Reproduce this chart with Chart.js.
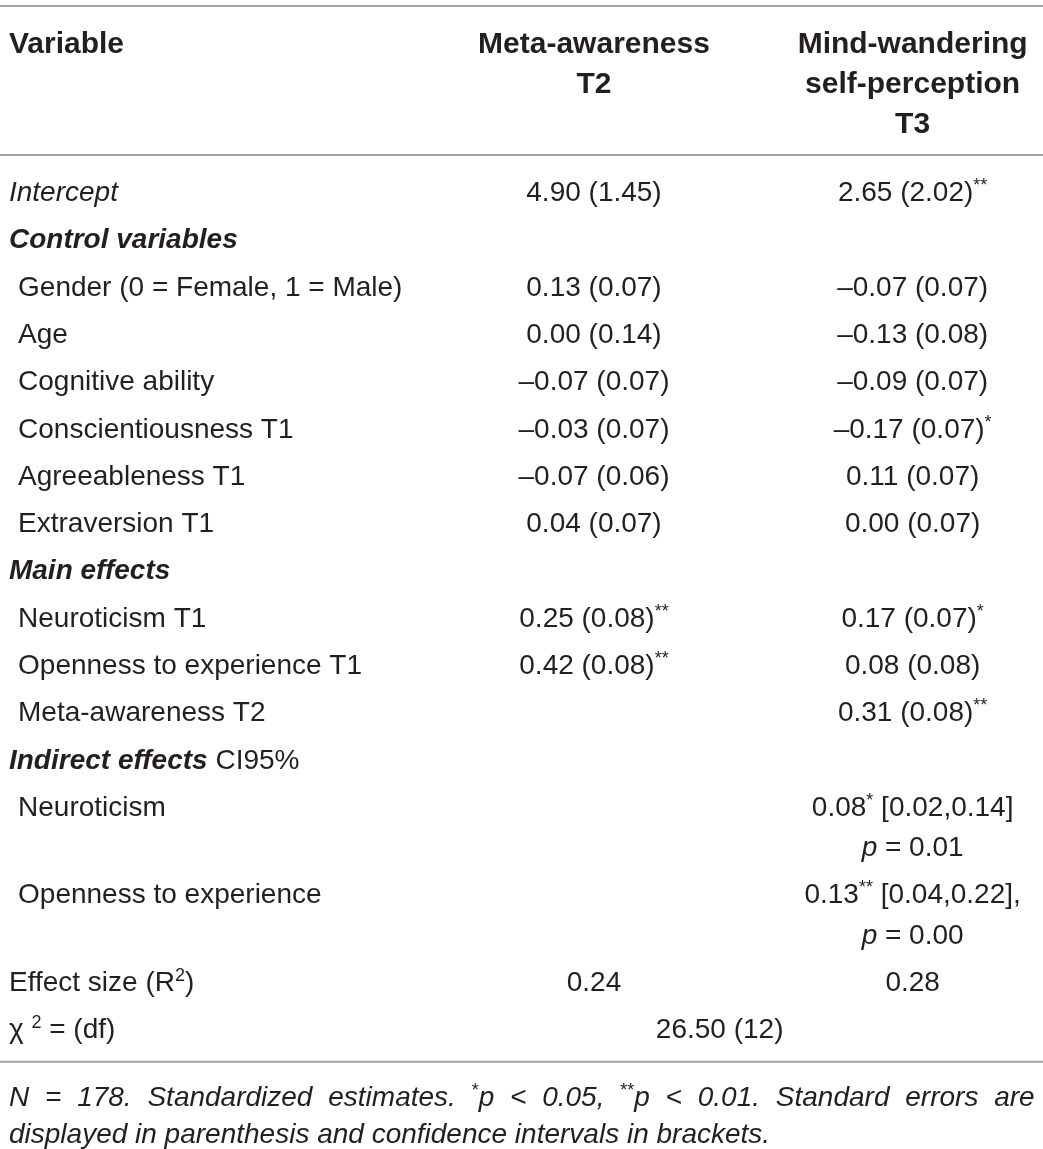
<!DOCTYPE html>
<html>
<head>
<meta charset="utf-8">
<script src="https://cdn.jsdelivr.net/npm/chart.js@4.4.1/dist/chart.umd.min.js"></script>
<style>
  html, body { margin: 0; padding: 0; background: #fff; }
</style>
</head>
<body>
<canvas id="tableChart" width="1043" height="1149"></canvas>
<script>
// ---- table content ----
// markup: {i:..} italic, {b:..} bold, {bi:..} bold italic, {sup:..} superscript
const headerVariable = ['Variable'];
const headerMeta = ['Meta-awareness', 'T2'];
const headerMind = ['Mind-wandering', 'self-perception', 'T3'];

const rowLabels = [
    '{i:Intercept}',
    '{bi:Control variables}',
    'Gender (0 = Female, 1 = Male)',
    'Age',
    'Cognitive ability',
    'Conscientiousness T1',
    'Agreeableness T1',
    'Extraversion T1',
    '{bi:Main effects}',
    'Neuroticism T1',
    'Openness to experience T1',
    'Meta-awareness T2',
    '{bi:Indirect effects} CI95%',
    'Neuroticism',
    'Openness to experience',
    'Effect size (R{sup:2})',
    'χ {sup:2} = (df)'
];
const rowIndent = [0, 0, 1, 1, 1, 1, 1, 1, 0, 1, 1, 1, 0, 1, 1, 0, 0];

const metaAwarenessT2 = [
    '4.90 (1.45)', '', '0.13 (0.07)', '0.00 (0.14)', '–0.07 (0.07)', '–0.03 (0.07)',
    '–0.07 (0.06)', '0.04 (0.07)', '', '0.25 (0.08){sup:**}', '0.42 (0.08){sup:**}',
    '', '', '', '', '0.24', ''
];
const mindWanderingT3 = [
    '2.65 (2.02){sup:**}', '', '–0.07 (0.07)', '–0.13 (0.08)', '–0.09 (0.07)', '–0.17 (0.07){sup:*}',
    '0.11 (0.07)', '0.00 (0.07)', '', '0.17 (0.07){sup:*}', '0.08 (0.08)', '0.31 (0.08){sup:**}',
    '', ['0.08{sup:*} [0.02,0.14]', '{i:p} = 0.01'], ['0.13{sup:**} [0.04,0.22],', '{i:p} = 0.00'],
    '0.28', ''
];
const chiSquareModel = '26.50 (12)';

const footnote = [
    'N = 178. Standardized estimates. {sup:*}p < 0.05, {sup:**}p < 0.01. Standard errors are',
    'displayed in parenthesis and confidence intervals in brackets.'
];

// ---- layout (x in % of width, y in row units) ----
const W = 1043, H = 1149;
const firstRowPx = 191, rowPx = 47.3, lineStep = 0.85;
const xLeft = 0.86, xIndent = 1.73, xMeta = 56.95, xMind = 87.5, xSpan = 69.0, xRight = 99.2;
const FONT = '"Liberation Sans", Arial, Helvetica, sans-serif';
const SIZE = 28, HEAD_SIZE = 30;
const INK = '#231f20';
const RULE = '#a3a3a3';

// vertical position of each body row
const rowY = [];
let pos = 0;
rowLabels.forEach((_, i) => {
    rowY.push(pos);
    const lines = Array.isArray(mindWanderingT3[i]) ? mindWanderingT3[i].length : 1;
    pos += 1 + (lines - 1) * lineStep;
});
const lastRow = rowY[rowY.length - 1];
const headerTop = -3.15;
const rules = [-3.91, -0.76, lastRow + 0.71];
const footTop = lastRow + 1.43, footStep = 0.78;

function cellPoints(texts, x, y0, step) {
    const lines = Array.isArray(texts) ? texts : [texts];
    return lines.map((t, j) => ({ x: x, y: y0 + j * step, text: t }));
}

const labelPts = rowLabels.map((t, i) => ({ x: rowIndent[i] ? xIndent : xLeft, y: rowY[i], text: t }));
const metaPts = [], mindPts = [];
rowY.forEach((y, i) => {
    if (metaAwarenessT2[i]) metaPts.push(...cellPoints(metaAwarenessT2[i], xMeta, y, lineStep));
    if (mindWanderingT3[i]) mindPts.push(...cellPoints(mindWanderingT3[i], xMind, y, lineStep));
});

const textSets = [
    { label: 'head-var', data: cellPoints(headerVariable, xLeft, headerTop, lineStep), align: 'left', base: 'b', size: HEAD_SIZE },
    { label: 'head-meta', data: cellPoints(headerMeta, xMeta, headerTop, lineStep), align: 'center', base: 'b', size: HEAD_SIZE },
    { label: 'head-mind', data: cellPoints(headerMind, xMind, headerTop, lineStep), align: 'center', base: 'b', size: HEAD_SIZE },
    { label: 'labels', data: labelPts, align: 'left', base: 'n' },
    { label: 'meta', data: metaPts, align: 'center', base: 'n' },
    { label: 'mind', data: mindPts, align: 'center', base: 'n' },
    { label: 'chi', data: [{ x: xSpan, y: lastRow, text: chiSquareModel }], align: 'center', base: 'n' },
    { label: 'foot1', data: [{ x: xLeft, y: footTop, text: footnote[0] }], align: 'justify', base: 'i' },
    { label: 'foot2', data: [{ x: xLeft, y: footTop + footStep, text: footnote[1] }], align: 'left', base: 'i' }
].map(d => Object.assign({ type: 'scatter', pointRadius: 0, cellText: true, size: SIZE }, d));

const ruleSets = rules.map(r => ({
    type: 'line',
    data: [{ x: 0, y: r }, { x: 100, y: r }],
    borderColor: RULE,
    borderWidth: 2,
    pointRadius: 0
}));

// ---- rich text helpers ----
function parseRich(str, base) {
    const out = [];
    const re = /\{(i|b|bi|sup):([^}]*)\}/g;
    let last = 0, m;
    while ((m = re.exec(str)) !== null) {
        if (m.index > last) out.push({ t: str.slice(last, m.index), s: base });
        out.push({ t: m[2], s: m[1] === 'i' && base === 'b' ? 'bi' : m[1] });
        last = re.lastIndex;
    }
    if (last < str.length) out.push({ t: str.slice(last), s: base });
    return out;
}
function fontFor(s, size) {
    if (s === 'sup') return `${Math.round(size * 0.64)}px ${FONT}`;
    const st = { n: '', i: 'italic ', b: 'bold ', bi: 'italic bold ' }[s];
    return `${st}${size}px ${FONT}`;
}
function segWidth(ctx, segs, size) {
    return segs.reduce((w, g) => { ctx.font = fontFor(g.s, size); return w + ctx.measureText(g.t).width; }, 0);
}
function drawSegs(ctx, segs, x, y, size) {
    segs.forEach(g => {
        ctx.font = fontFor(g.s, size);
        ctx.fillText(g.t, x, g.s === 'sup' ? y - size * 0.36 : y);
        x += ctx.measureText(g.t).width;
    });
}

const cellTextPlugin = {
    id: 'cellText',
    afterDatasetsDraw(chart) {
        const ctx = chart.ctx;
        const xs = chart.scales.x;
        ctx.save();
        ctx.fillStyle = INK;
        ctx.textBaseline = 'alphabetic';
        ctx.textAlign = 'left';
        chart.data.datasets.forEach((ds, di) => {
            if (!ds.cellText) return;
            const size = ds.size;
            chart.getDatasetMeta(di).data.forEach((el, k) => {
                const raw = ds.data[k];
                const y = el.y + size * 0.36;
                if (ds.align === 'justify') {
                    const words = raw.text.split(' ').map(w => parseRich(w, ds.base));
                    const widths = words.map(w => segWidth(ctx, w, size));
                    const right = xs.getPixelForValue(xRight);
                    const gap = (right - el.x - widths.reduce((a, b) => a + b, 0)) / (words.length - 1);
                    let x = el.x;
                    words.forEach((w, i) => { drawSegs(ctx, w, x, y, size); x += widths[i] + gap; });
                    return;
                }
                const segs = parseRich(raw.text, ds.base);
                const w = segWidth(ctx, segs, size);
                const x = ds.align === 'center' ? el.x - w / 2 : el.x;
                drawSegs(ctx, segs, x, y, size);
            });
        });
        ctx.restore();
    }
};

new Chart(document.getElementById('tableChart'), {
    data: { datasets: [...ruleSets, ...textSets] },
    options: {
        responsive: false,
        animation: false,
        layout: { padding: 0 },
        plugins: { legend: { display: false }, tooltip: { enabled: false } },
        scales: {
            x: { type: 'linear', min: 0, max: 100, display: false },
            y: {
                type: 'linear', reverse: true, display: false,
                min: -firstRowPx / rowPx,
                max: (H - firstRowPx) / rowPx
            }
        }
    },
    plugins: [cellTextPlugin]
});
</script>
</body>
</html>
